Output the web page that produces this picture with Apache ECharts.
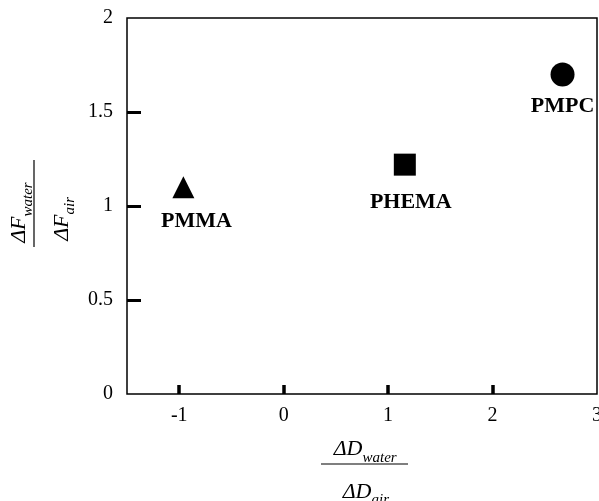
<!DOCTYPE html>
<html>
<head>
<meta charset="utf-8">
<script src="https://cdn.jsdelivr.net/npm/echarts@6/dist/echarts.min.js"></script>
<style>html,body{margin:0;padding:0;background:#fff;}#c{width:599px;height:501px;}</style>
</head>
<body>
<div id="c"></div>
<script>
var names = ['PMMA', 'PHEMA', 'PMPC'];
var xVals = [-0.96, 1.16, 2.67];
var yVals = [1.10, 1.22, 1.70];
var symbols = ['triangle', 'rect', 'circle'];
var symbolSizes = [22, 22, 24];
var labelOffsets = [[13, 6], [6, 10], [0, 3]];
var xTickValues = [-1, 0, 1, 2];
var xLabelValues = [-1, 0, 1, 2, 3];
var yTickValues = [0.5, 1, 1.5];
var yLabelValues = [0, 0.5, 1, 1.5, 2];

var serif = '"Liberation Serif", "DejaVu Serif", serif';
var chart = echarts.init(document.getElementById('c'));

var data = names.map(function (n, i) {
  return {
    name: n,
    value: [xVals[i], yVals[i]],
    symbol: symbols[i],
    symbolSize: symbolSizes[i],
    label: { offset: labelOffsets[i] }
  };
});

// fraction title: split = local x where the big letters end and subscript begins
function fracChildren(num, den, numSplit, denSplit) {
  function t(txt, x, y, size, align) {
    return { type: 'text', x: x, y: y, style: { text: txt, fontFamily: serif, fontStyle: 'italic', fontSize: size, fill: '#000', align: align, verticalAlign: 'middle' } };
  }
  return [
    t(num[0], numSplit, -15, 22, 'right'),
    t(num[1], numSplit, -6, 15, 'left'),
    { type: 'line', shape: { x1: -43.5, y1: 0, x2: 43.5, y2: 0 }, style: { stroke: '#000', lineWidth: 1.2 } },
    t(den[0], denSplit, 28, 22, 'right'),
    t(den[1], denSplit, 36, 15, 'left')
  ];
}

chart.setOption({
  animation: false,
  backgroundColor: '#fff',
  grid: { left: 127, right: 2, top: 18, bottom: 107, outerBoundsMode: 'none', containLabel: false, show: true, borderColor: '#000', borderWidth: 1.5, backgroundColor: 'transparent' },
  xAxis: {
    type: 'value', min: -1.5, max: 3,
    axisLine: { show: false, onZero: false },
    splitLine: { show: false },
    axisTick: { show: true, inside: true, length: 9, customValues: xTickValues, lineStyle: { color: '#000', width: 3.5 } },
    axisLabel: { customValues: xLabelValues, color: '#000', fontFamily: serif, fontSize: 20, margin: 12, formatter: function (v) { return String(v); } }
  },
  yAxis: {
    type: 'value', min: 0, max: 2,
    axisLine: { show: false, onZero: false },
    splitLine: { show: false },
    axisTick: { show: true, inside: true, length: 14, customValues: yTickValues, lineStyle: { color: '#000', width: 3 } },
    axisLabel: { customValues: yLabelValues, color: '#000', fontFamily: serif, fontSize: 20, margin: 14, formatter: function (v) { return String(v); } }
  },
  series: [{
    type: 'scatter',
    data: data,
    itemStyle: { color: '#000', opacity: 1 },
    label: {
      show: true, position: 'bottom', distance: 6,
      formatter: '{b}', color: '#000', opacity: 1, fontFamily: serif, fontWeight: 'bold', fontSize: 22
    }
  }],
  graphic: [
    { type: 'group', x: 364.5, y: 464, children: fracChildren(['ΔD', 'water'], ['ΔD', 'air'], -2, 7) },
    { type: 'group', x: 34, y: 203.5, rotation: Math.PI / 2, children: fracChildren(['ΔF', 'water'], ['ΔF', 'air'], -13, -11) }
  ]
});
</script>
</body>
</html>
